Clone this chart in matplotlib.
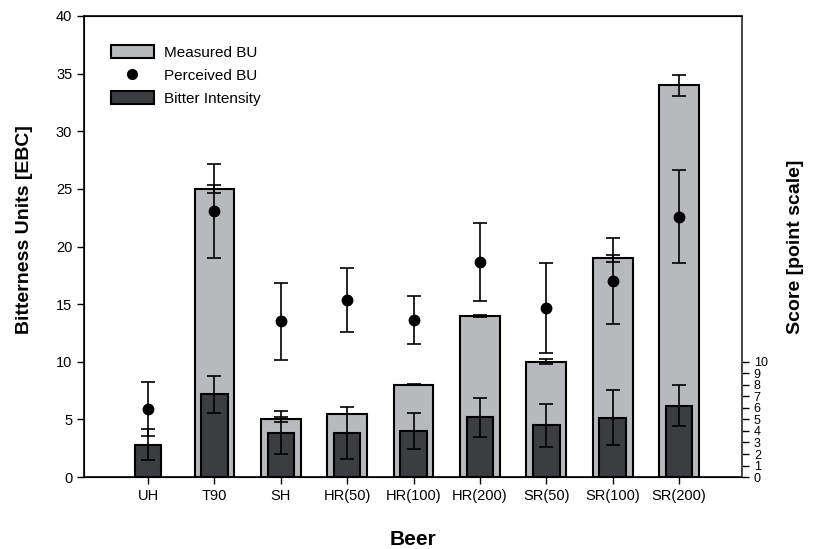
import numpy as np
import matplotlib
matplotlib.use("Agg")
import matplotlib.pyplot as plt

plt.rcParams['font.family'] = ['Liberation Sans', 'DejaVu Sans']

# data
beers = ['UH', 'T90', 'SH', 'HR(50)', 'HR(100)', 'HR(200)', 'SR(50)', 'SR(100)', 'SR(200)']
measured_bu = [np.nan, 25.0, 5.0, 5.5, 8.0, 14.0, 10.0, 19.0, 34.0]
measured_err = [np.nan, 0.35, 0.23, 0.0, 0.05, 0.1, 0.2, 0.3, 0.9]
perceived_bu = [5.9, 23.1, 13.5, 15.35, 13.65, 18.65, 14.7, 17.0, 22.6]
perceived_err = [2.35, 4.1, 3.35, 2.8, 2.1, 3.4, 3.9, 3.7, 4.05]
bitter_int = [2.8, 7.2, 3.85, 3.85, 4.0, 5.2, 4.5, 5.15, 6.2]
bitter_err = [1.33, 1.6, 1.85, 2.25, 1.55, 1.7, 1.87, 2.4, 1.8]

light = '#b8b9bc'
dark = '#3c3d41'

fig = plt.figure(figsize=(8.19, 5.49), dpi=100)
ax = fig.add_axes([0.1026, 0.131, 0.8034, 0.8399])
x = np.arange(len(beers))

ekw = dict(ecolor='black', elinewidth=1.2, capsize=5.3, capthick=1.2)

ax.bar(x, measured_bu, width=0.6, color=light, edgecolor='black', linewidth=1.5,
       label='Measured BU', zorder=2)
ax.errorbar(x, measured_bu, yerr=measured_err, fmt='none', zorder=3, **ekw)
ax.bar(x, bitter_int, width=0.4, color=dark, edgecolor='black', linewidth=1.5,
       label='Bitter Intensity', zorder=4)
ax.errorbar(x, bitter_int, yerr=bitter_err, fmt='none', zorder=5, **ekw)
ax.errorbar(x, perceived_bu, yerr=perceived_err, fmt='o', color='black',
            markersize=7.5, zorder=6, **ekw)
ax.plot([], [], 'o', color='black', markersize=7, label='Perceived BU')

ax.set_xlim(-0.965, 8.95)
ax.set_ylim(0, 40)
ax.set_yticks(np.arange(0, 41, 5))
ax.set_xticks(x)
ax.set_xticklabels(beers)
ax.tick_params(direction='out', length=5, width=1, labelsize=10.5)
for s in ax.spines.values():
    s.set_linewidth(1.2)

ax.set_ylabel('Bitterness Units [EBC]', fontsize=14, fontweight='bold')
ax.yaxis.set_label_coords(-0.077, 0.536)
ax.set_xlabel('Beer', fontsize=15, fontweight='bold')
ax.xaxis.set_label_coords(0.5, -0.114)

ax2 = ax.twinx()
ax2.set_ylim(0, 40)
ax2.set_yticks(np.arange(0, 11, 1))
ax2.tick_params(direction='out', length=5, width=1, labelsize=9)
ax2.spines['right'].set_color('#555555')
ax2.spines['right'].set_linewidth(1.2)
ax2.set_ylabel('Score [point scale]', fontsize=14, fontweight='bold')
ax2.yaxis.set_label_coords(1.069, 0.5)

h, l = ax.get_legend_handles_labels()
order = [l.index('Measured BU'), l.index('Perceived BU'), l.index('Bitter Intensity')]
ax.legend([h[i] for i in order], [l[i] for i in order], loc='upper left',
          bbox_to_anchor=(0.02, 0.966), frameon=False, fontsize=11,
          handlelength=2.8, handleheight=0.9, labelspacing=0.55, handletextpad=0.7)

fig.savefig('out.png', dpi=100)
